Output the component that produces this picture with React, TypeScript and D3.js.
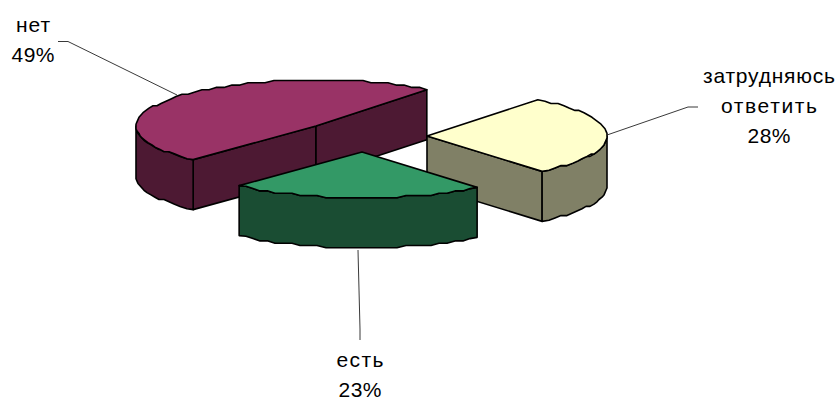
import React, { useEffect, useRef } from "react";
import * as d3 from "d3";

// slices, in the pie's clockwise order
const categories = ["затрудняюсь ответить", "есть", "нет"];
const labelLines = [["затрудняюсь", "ответить"], ["есть"], ["нет"]];
const values = [28.4, 23, 48.6]; // labels show these rounded
const topColors = ["#ffffcc", "#339966", "#993366"];
const wallColors = ["#808066", "#1a4d33", "#4d1933"];

const width = 839;
const height = 397;

// each slice is pulled out of the pie, so every one has its own apex
const apex = [
  [427, 136],
  [362, 152],
  [316, 126],
];
const labelPos = [
  [769, 83],
  [360, 366.5],
  [33, 32],
];
// the source spreads its cyrillic text, widths of each row in px
const rowWidths = [
  [132, 96, 43],
  [47, 43],
  [34, 43],
];
const leaders = [
  [[698, 107], [688, 107], [607, 135]],
  [[358, 250], [360, 329], [360, 340]],
  [[58, 41.5], [68, 41.5], [177, 95]],
];
const drawOrder = [2, 0, 1]; // back to front

const depth = 50;
const startAngle = (38 * Math.PI) / 180;

const App = () => {
  const svgRef = useRef<SVGSVGElement>(null);

  useEffect(() => {
    const svg = d3.select(svgRef.current);
    svg.selectAll("*").remove();

    const xs = d3.scaleLinear().domain([-1, 1]).range([-180, 180]);
    const ys = d3.scaleLinear().domain([-1, 1]).range([46, -46]);

    const pie = d3
      .pie<number>()
      .sort(null)
      .startAngle(startAngle)
      .endAngle(startAngle + 2 * Math.PI);
    const arcs = pie(values);

    const line = d3.line();
    const pct = d3.format(".0f");

    // the source chart's rim is stepped, it comes from a coarse metafile
    const snap = (v: number, step: number) => Math.round(v / step) * step;

    const rim = (i: number, a0: number, a1: number) => {
      const n = Math.max(2, Math.round(Math.abs(a1 - a0) / 0.05));
      return d3.range(n + 1).map((k) => {
        const a = a0 + ((a1 - a0) * k) / n;
        const x = apex[i][0] + xs(Math.sin(a));
        const y = apex[i][1] + ys(Math.cos(a));
        const ends = k === 0 || k === n;
        return [ends ? x : snap(x, 1), ends ? y : snap(y, 2.3)] as [number, number];
      });
    };

    const drop = (pts: [number, number][]) =>
      pts.map((p) => [p[0], p[1] + depth] as [number, number]);

    const shape = (d: string, fill: string) =>
      svg
        .append("path")
        .attr("d", d)
        .attr("fill", fill)
        .attr("stroke", "#000")
        .attr("stroke-width", 1.6)
        .attr("stroke-linejoin", "round");

    drawOrder.forEach((i) => {
      const { startAngle: a0, endAngle: a1 } = arcs[i];
      const A = apex[i] as [number, number];
      const mid = (a0 + a1) / 2;
      const M = [xs(Math.sin(mid)), ys(Math.cos(mid))];
      const top = rim(i, a0, a1);

      // straight cut walls, only those that face the viewer
      const first = top[0];
      const last = top[top.length - 1];
      [first, last].forEach((P) => {
        let nx = -(P[1] - A[1]);
        let ny = P[0] - A[0];
        if (nx * M[0] + ny * M[1] > 0) {
          nx = -nx;
          ny = -ny;
        }
        if (ny > 0) {
          const q: [number, number][] = [A, P, [P[0], P[1] + depth], [A[0], A[1] + depth]];
          shape(line(q) + "Z", wallColors[i]);
        }
      });

      // outer wall, the near half of the rim
      const from = Math.max(a0, Math.PI / 2);
      const to = Math.min(a1, (3 * Math.PI) / 2);
      if (to > from) {
        const edge = rim(i, from, to);
        shape(line([...edge, ...drop(edge).reverse()]) + "Z", wallColors[i]);
      }

      shape(line([A, ...top]) + "Z", topColors[i]);
    });

    // leader lines
    leaders.forEach((pts) => {
      svg
        .append("path")
        .attr("d", line(pts as [number, number][]))
        .attr("fill", "none")
        .attr("stroke", "#222")
        .attr("stroke-width", 0.9);
    });

    // labels
    categories.forEach((c, i) => {
      const rows = [...labelLines[i], `${pct(values[i])}%`];
      rows.forEach((r, k) => {
        svg
          .append("text")
          .attr("x", labelPos[i][0])
          .attr("y", labelPos[i][1] + k * 30)
          .attr("text-anchor", "middle")
          .attr("font-family", "'Liberation Sans', Arial, sans-serif")
          .attr("font-size", 21)
          .attr("textLength", rowWidths[i][k])
          .attr("lengthAdjust", "spacing")
          .attr("fill", "#000")
          .text(r);
      });
    });
  }, []);

  return (
    <svg
      ref={svgRef}
      width={width}
      height={height}
      style={{ position: "absolute", left: 0, top: 0, background: "#fff" }}
    ></svg>
  );
};

export default App;
